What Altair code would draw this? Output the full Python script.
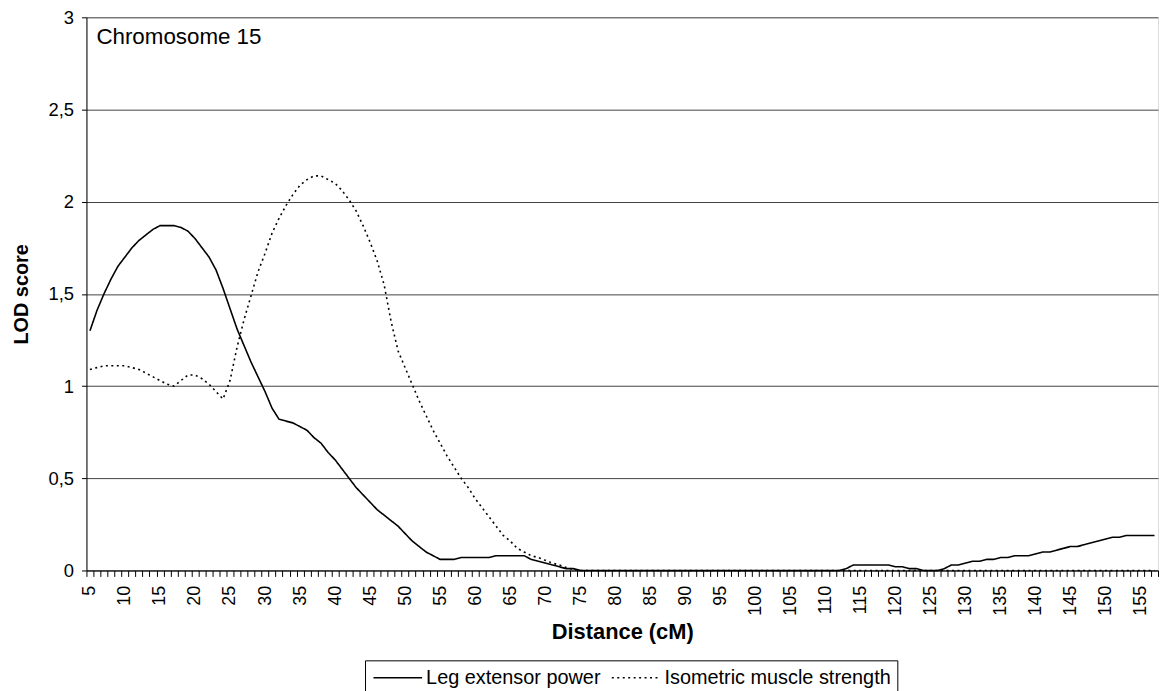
import altair as alt
import pandas as pd

cm = list(range(5, 158))

leg_power = [
    1.30, 1.41, 1.50, 1.58, 1.65, 1.70, 1.75, 1.79, 1.82, 1.85,   # 5-14
    1.87, 1.87, 1.87, 1.86, 1.84, 1.80, 1.75, 1.70, 1.63, 1.53,   # 15-24
    1.42, 1.31, 1.22, 1.13, 1.05, 0.97, 0.88, 0.82, 0.81, 0.80,   # 25-34
    0.78, 0.76, 0.72, 0.69, 0.64, 0.60, 0.55, 0.50, 0.45, 0.41,   # 35-44
    0.37, 0.33, 0.30, 0.27, 0.24, 0.20, 0.16, 0.13, 0.10, 0.08,   # 45-54
    0.06, 0.06, 0.06, 0.07, 0.07, 0.07, 0.07, 0.07, 0.08, 0.08,   # 55-64
    0.08, 0.08, 0.08, 0.06, 0.05, 0.04, 0.03, 0.02, 0.01, 0.01,   # 65-74
    0, 0, 0, 0, 0, 0, 0, 0, 0, 0,                                 # 75-84
    0, 0, 0, 0, 0, 0, 0, 0, 0, 0,                                 # 85-94
    0, 0, 0, 0, 0, 0, 0, 0, 0, 0,                                 # 95-104
    0, 0, 0, 0, 0, 0, 0, 0, 0.01, 0.03,                           # 105-114
    0.03, 0.03, 0.03, 0.03, 0.03, 0.02, 0.02, 0.01, 0.01, 0,      # 115-124
    0, 0, 0.01, 0.03, 0.03, 0.04, 0.05, 0.05, 0.06, 0.06,         # 125-134
    0.07, 0.07, 0.08, 0.08, 0.08, 0.09, 0.10, 0.10, 0.11, 0.12,   # 135-144
    0.13, 0.13, 0.14, 0.15, 0.16, 0.17, 0.18, 0.18, 0.19, 0.19,   # 145-154
    0.19, 0.19, 0.19,                                             # 155-157
]

iso_strength = [
    1.09, 1.10, 1.11, 1.11, 1.11, 1.11, 1.10, 1.09, 1.07, 1.05,   # 5-14
    1.03, 1.01, 1.00, 1.03, 1.06, 1.06, 1.04, 1.01, 0.97, 0.93,   # 15-24
    1.03, 1.21, 1.36, 1.49, 1.62, 1.72, 1.83, 1.91, 1.98, 2.04,   # 25-34
    2.09, 2.12, 2.14, 2.14, 2.12, 2.10, 2.06, 2.01, 1.95, 1.87,   # 35-44
    1.78, 1.68, 1.55, 1.35, 1.19, 1.10, 1.01, 0.92, 0.84, 0.76,   # 45-54
    0.69, 0.62, 0.56, 0.50, 0.45, 0.39, 0.34, 0.29, 0.24, 0.19,   # 55-64
    0.16, 0.12, 0.10, 0.08, 0.07, 0.055, 0.04, 0.03, 0.016, 0.005, # 65-74
    0, 0, 0, 0, 0, 0, 0, 0, 0, 0,                                 # 75-84
    0, 0, 0, 0, 0, 0, 0, 0, 0, 0,                                 # 85-94
    0, 0, 0, 0, 0, 0, 0, 0, 0, 0,                                 # 95-104
    0, 0, 0, 0, 0, 0, 0, 0, 0, 0,                                 # 105-114
    0, 0, 0, 0, 0, 0, 0, 0, 0, 0,                                 # 115-124
    0, 0, 0, 0, 0, 0, 0, 0, 0, 0,                                 # 125-134
    0, 0, 0, 0, 0, 0, 0, 0, 0, 0,                                 # 135-144
    0, 0, 0, 0, 0, 0, 0, 0, 0, 0,                                 # 145-154
    0, 0, 0,                                                      # 155-157
]

series_names = ["Leg extensor power", "Isometric muscle strength"]
series_dash = [[1, 0], [2, 3.5]]
y_ticks = [0, 0.5, 1, 1.5, 2, 2.5, 3]
x_tick_bounds = [c - 0.5 for c in cm] + [cm[-1] + 0.5]

df = pd.DataFrame(
    {"cm": cm * 2,
     "lod": leg_power + iso_strength,
     "series": [series_names[0]] * len(cm) + [series_names[1]] * len(cm)}
)

FONT = "Liberation Sans"

lines = alt.Chart(df).mark_line(color="black", strokeWidth=1.6).encode(
    x=alt.X(
        "cm:Q",
        scale=alt.Scale(domain=[x_tick_bounds[0], x_tick_bounds[-1]], nice=False, zero=False),
        axis=alt.Axis(
            values=x_tick_bounds,
            labelExpr="(datum.value + 0.5) % 5 == 0 && datum.value < 157 ? toString(datum.value + 0.5) : ''",
            labelAngle=270,
            labelOffset=3.53,
            labelOverlap=False,
            labelBound=False,
            labelFlush=False,
            labelFontSize=18,
            labelFont=FONT,
            labelColor="black",
            labelPadding=9,
            tickSize=6,
            tickColor="black",
            domainColor="black",
            grid=False,
            title="Distance (cM)",
            titleFont=FONT,
            titleFontSize=22,
            titleFontWeight="bold",
            titleColor="black",
            titlePadding=6,
        ),
    ),
    y=alt.Y(
        "lod:Q",
        scale=alt.Scale(domain=[0, 3], nice=False),
        axis=alt.Axis(
            values=y_ticks,
            labelExpr="replace(toString(datum.value), '.', ',')",
            labelFontSize=18.5,
            labelFont=FONT,
            labelColor="black",
            labelPadding=8,
            tickSize=5,
            tickColor="black",
            domainColor="black",
            grid=True,
            gridColor="#444444",
            gridWidth=1,
            gridOpacity=1,
            title="LOD score",
            titleFont=FONT,
            titleFontSize=20,
            titleFontWeight="bold",
            titleColor="black",
            titlePadding=17,
        ),
    ),
    strokeDash=alt.StrokeDash(
        "series:N",
        scale=alt.Scale(domain=series_names, range=series_dash),
        legend=None,
    ),
)

one = pd.DataFrame({"k": [0]})

chrom_label = alt.Chart(pd.DataFrame({"t": ["Chromosome 15"]})).mark_text(
    align="left", baseline="middle", font=FONT, fontSize=22.5, color="black"
).encode(x=alt.value(10), y=alt.value(20), text="t:N")

# manual legend (box, two line samples, two labels)
legend_box = alt.Chart(one).mark_rect(
    filled=False, stroke="black", strokeWidth=1
).encode(x=alt.value(281), x2=alt.value(817), y=alt.value(648), y2=alt.value(700))

legend_solid = alt.Chart(one).mark_rule(color="black", strokeWidth=1.6).encode(
    x=alt.value(289), x2=alt.value(338), y=alt.value(665)
)
legend_dotted = alt.Chart(one).mark_rule(
    color="black", strokeWidth=1.6, strokeDash=series_dash[1]
).encode(x=alt.value(529), x2=alt.value(576), y=alt.value(665))

legend_text1 = alt.Chart(pd.DataFrame({"t": [series_names[0]]})).mark_text(
    align="left", baseline="middle", font=FONT, fontSize=20, color="black"
).encode(x=alt.value(342), y=alt.value(665), text="t:N")
legend_text2 = alt.Chart(pd.DataFrame({"t": [series_names[1]]})).mark_text(
    align="left", baseline="middle", font=FONT, fontSize=20, color="black"
).encode(x=alt.value(582), y=alt.value(665), text="t:N")

chart = alt.layer(
    lines, chrom_label, legend_box, legend_solid, legend_dotted, legend_text1, legend_text2
).properties(
    width=1079,
    height=557,
    padding={"left": 79, "top": 7, "right": 2, "bottom": 119},
    autosize=alt.AutoSizeParams(type="none"),
).configure_view(stroke=None).configure(background="white")

chart.save("out.html", embed_options={"renderer": "svg", "actions": False})
